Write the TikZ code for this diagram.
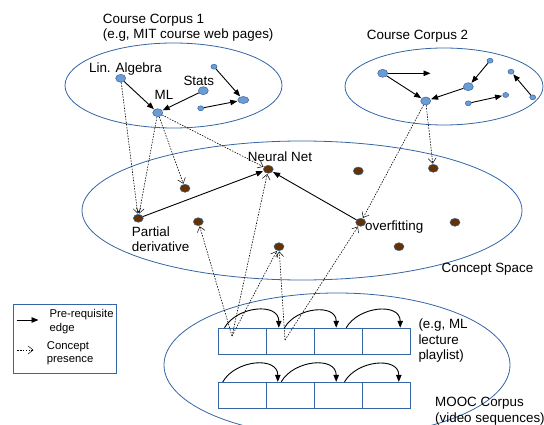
\documentclass[tikz,border=0pt]{standalone}
\usepackage{fontspec}
\setmainfont{Liberation Sans}
\usetikzlibrary{arrows.meta,shapes.geometric}
\definecolor{ellblue}{RGB}{52,101,164}
\definecolor{dotblue}{RGB}{108,156,212}
\definecolor{conceptbrown}{RGB}{102,51,0}

\begin{document}
\begin{tikzpicture}[x=1pt,y=-1pt,font=\fontsize{13.4}{15.5}\selectfont,
        big node/.style={ellipse,draw=ellblue,line width=0.5pt,fill=dotblue,minimum width=10pt,minimum height=8pt,inner sep=0pt},
        small node/.style={big node,minimum width=6pt,minimum height=5pt},
        concept node/.style={ellipse,draw=ellblue,line width=0.5pt,fill=conceptbrown,minimum width=10pt,minimum height=8pt,inner sep=0pt},
        corpus/.style={draw=ellblue,line width=0.8pt},
        cell/.style={rectangle,draw=ellblue,line width=1.1pt,minimum width=48.1pt,minimum height=25.8pt,inner sep=0pt},
        txt/.style={inner sep=0pt,align=left},
        prereq/.style={-{Triangle[length=7pt,width=5.5pt]},line width=0.9pt,shorten >=0.5pt},
        presence/.style={-{Straight Barb[length=5pt,width=8pt,line width=0.5pt]},line width=0.6pt,dash pattern=on 1.5pt off 1.3pt,shorten >=0.5pt},
        seq/.style={-{Triangle[length=7pt,width=5.5pt]},line width=0.9pt}]
                \useasboundingbox (0,0) rectangle (544,425);

                \draw[corpus] (173.5,85.5) ellipse [x radius=108.5pt,y radius=42.5pt];
                \draw[corpus] (444,86.5) ellipse [x radius=99pt,y radius=38.5pt];
                \draw[corpus] (302,210.5) ellipse [x radius=220pt,y radius=69.5pt];
                \draw[corpus] (337,365) ellipse [x radius=173pt,y radius=72pt];

                \node[big node] (la) at (120.7,78.3) {};
                \node[big node] (ml) at (157.7,112.7) {};
                \node[big node] (st) at (203.3,90.7) {};
                \node[small node] (a1) at (214,66.7) {};
                \node[big node,minimum width=11pt,minimum height=7pt] (b1) at (243.3,100) {};
                \node[small node] (c1) at (200.7,108.3) {};

                \node[big node] (p2) at (382.7,73.3) {};
                \coordinate (e2) at (431,73.3);
                \node[big node] (q2) at (425.7,101) {};
                \node[big node] (r2) at (468.3,86.7) {};
                \node[small node] (s2) at (490,60.7) {};
                \node[small node] (t2) at (511,71.7) {};
                \node[small node] (u2) at (532.7,97.3) {};
                \node[small node] (v2) at (468.3,103.3) {};
                \node[small node] (w2) at (505.7,95) {};

                \node[concept node] (pd) at (138.3,218.3) {};
                \node[concept node] (nn) at (268.3,169.3) {};
                \node[concept node] (c3) at (185,188.3) {};
                \node[concept node] (c4) at (198.3,221.7) {};
                \node[concept node] (c5) at (279,246.7) {};
                \node[concept node] (c6) at (358.3,171) {};
                \node[concept node] (of) at (360.7,222.3) {};
                \node[concept node] (c8) at (433.3,168.3) {};
                \node[concept node] (c9) at (455,222.3) {};
                \node[concept node] (c10) at (399,246.7) {};

                \node[cell] (m11) at (242.4,341.2) {};
                \node[cell] (m12) at (290.5,341.2) {};
                \node[cell] (m13) at (338.6,341.2) {};
                \node[cell] (m14) at (386.7,341.2) {};
                \node[cell] (m21) at (242.4,395.3) {};
                \node[cell] (m22) at (290.5,395.3) {};
                \node[cell] (m23) at (338.6,395.3) {};
                \node[cell] (m24) at (386.7,395.3) {};
                \coordinate (src1) at (232,336);
                \coordinate (src2) at (285,340);

                \node[draw=ellblue,line width=0.9pt,minimum width=103.4pt,minimum height=69pt,inner sep=0pt] (legend) at (65,338.8) {};
                \coordinate (k1) at (16.7,320);
                \coordinate (k2) at (39,320);
                \coordinate (k3) at (17.3,350);
                \coordinate (k4) at (34,350);

                \node[txt,anchor=west] (title1) at (102.7,27.5) {Course Corpus 1\\(e.g, MIT course web pages)};
                \node[txt,anchor=west] (title2) at (366.7,36) {Course Corpus 2};
                \node[txt] (lalabel) at (125.5,69) {Lin. Algebra};
                \node[txt] (mllabel) at (164,95) {ML};
                \node[txt] (stlabel) at (198.8,80.5) {Stats};
                \node[txt] (nnlabel) at (280,156.7) {Neural Net};
                \node[txt,anchor=west] (pdlabel) at (131.7,239) {Partial\\derivative};
                \node[txt,anchor=west] (oflabel) at (365,227) {overfitting};
                \node[txt] (cslabel) at (487.5,269.3) {Concept Space};
                \node[txt,anchor=west] (pllabel) at (418.3,341) {(e.g, ML\\lecture\\playlist)};
                \node[txt,anchor=west] (mooclabel) at (435,411) {MOOC Corpus\\(video sequences)};
                \node[txt,anchor=west,font=\fontsize{11.3}{14.5}\selectfont] (keyprereq) at (49.3,321.8) {Pre-requisite\\edge};
                \node[txt,anchor=west,font=\fontsize{11.3}{13}\selectfont] (keypresence) at (46.7,353.7) {Concept\\presence};

                \path[prereq]
                    (la) edge (ml)
                    (st) edge (ml)
                    (a1) edge (b1)
                    (c1) edge (b1)
                    (p2) edge (e2)
                    (p2) edge (q2)
                    (r2) edge (q2)
                    (s2) edge (r2)
                    (u2) edge (t2)
                    (v2) edge (w2)
                    (pd) edge (nn)
                    (of) edge (nn)
                    (k1) edge (k2)
                ;

                \path[presence]
                    (la) edge (pd)
                    (ml) edge (pd)
                    (ml) edge (c3)
                    (ml) edge (nn)
                    (q2) edge (of)
                    (q2) edge (c8)
                    (src1) edge (c4)
                    (src1) edge (nn)
                    (src1) edge (c5)
                    (src2) edge (c5)
                    (src2) edge (of)
                    (k3) edge (k4)
                ;

                \path[seq]
                    ([xshift=6.7pt]m11.north west) edge[out=60,in=90,looseness=1.2] ([xshift=12.9pt]m12.north west)
                    ([xshift=18.6pt]m12.north west) edge[out=60,in=90,looseness=1.2] ([xshift=22.2pt]m13.north west)
                    ([xshift=32.2pt]m13.north west) edge[out=60,in=90,looseness=1.2] ([xshift=38.1pt]m14.north west)
                    ([xshift=5pt]m21.north west) edge[out=60,in=90,looseness=1.2] ([xshift=11.9pt]m22.north west)
                    ([xshift=15.3pt]m22.north west) edge[out=60,in=90,looseness=1.2] ([xshift=22.2pt]m23.north west)
                    ([xshift=30.5pt]m23.north west) edge[out=60,in=90,looseness=1.2] ([xshift=36.7pt]m24.north west)
                ;
            \end{tikzpicture}
\end{document}
